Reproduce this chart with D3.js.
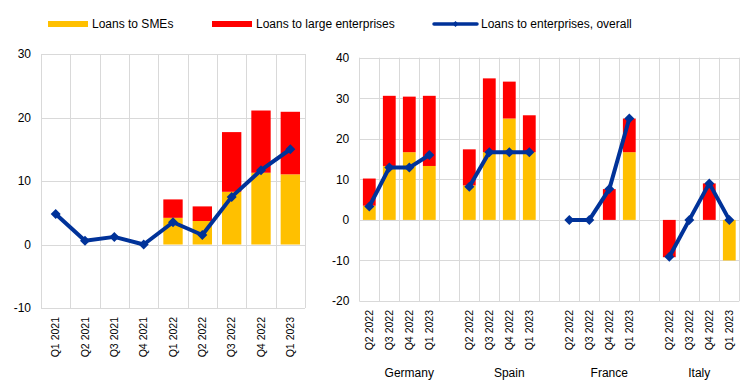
<!DOCTYPE html>
<html><head><meta charset="utf-8">
<script src="https://cdn.jsdelivr.net/npm/d3@7"></script>
<style>
body{margin:0;background:#fff;}
svg text{font-family:"Liberation Sans",Arial,sans-serif;fill:#000;}
</style></head>
<body><svg id="c" width="744" height="384"></svg>
<script>
// ---- data ----
const leftCategories = ["Q1 2021","Q2 2021","Q3 2021","Q4 2021","Q1 2022","Q2 2022","Q3 2022","Q4 2022","Q1 2023"];
const leftSME     = [null, null, null, null, 4.2, 3.7, 8.3, 11.3, 11.05];
const leftLarge   = [null, null, null, null, 2.9, 2.3, 9.4, 9.8, 9.85];
const leftOverall = [4.8, 0.6, 1.2, 0.0, 3.5, 1.5, 7.5, 11.7, 15.0];
const leftTicks   = [-10, 0, 10, 20, 30];

const countries = ["Germany","Spain","France","Italy"];
const quarters  = ["Q2 2022","Q3 2022","Q4 2022","Q1 2023"];
const rightSME = {
  Germany:[3.5, 13.3, 16.7, 13.3],
  Spain:[8.5, 16.7, 25.0, 16.7],
  France:[0, 0, 0, 16.7],
  Italy:[0, 0, 0, -10.0]
};
const rightLarge = {
  Germany:[6.7, 17.3, 13.7, 17.3],
  Spain:[8.9, 18.2, 9.1, 9.1],
  France:[0, 0, 7.6, 8.3],
  Italy:[-9.2, 0, 9.0, 0]
};
const rightOverall = {
  Germany:[3.3, 12.9, 12.9, 16.0],
  Spain:[8.2, 16.7, 16.7, 16.7],
  France:[0, 0, 7.6, 25.0],
  Italy:[-9.1, 0, 9.0, 0]
};
const rightTicks = [-20, -10, 0, 10, 20, 30, 40];

const seriesNames = ["Loans to SMEs","Loans to large enterprises","Loans to enterprises, overall"];
const colors = {sme:"#FFC000", large:"#FF0000", line:"#003299", grid:"#D9D9D9"};

const svg = d3.select("#c");
const diamond = "M0,-5L5,0L0,5L-5,0Z";

// ---- legend ----
const lg = svg.append("g");
const legendX = [48, 212, 434];
[0,1].forEach(i=>{
  lg.append("rect").attr("x",legendX[i]).attr("y",21).attr("width",40).attr("height",6)
    .attr("fill", i===0?colors.sme:colors.large);
  lg.append("text").attr("x",legendX[i]+44).attr("y",28).attr("font-size",12).text(seriesNames[i]);
});
lg.append("line").attr("x1",legendX[2]).attr("x2",legendX[2]+43).attr("y1",24).attr("y2",24)
  .attr("stroke",colors.line).attr("stroke-width",3.5).attr("stroke-linecap","round");
lg.append("path").attr("d","M0,-3L3,0L0,3L-3,0Z").attr("transform",`translate(${legendX[2]+21.5},24)`).attr("fill",colors.line);
lg.append("text").attr("x",legendX[2]+47).attr("y",28).attr("font-size",12).text(seriesNames[2]);

function drawPanel(opts){
  const {x0,x1,y0,y1,domain,yTicks,yDomain,rows,labelFor} = opts;
  const x = d3.scaleBand().domain(domain).range([x0,x1]).paddingInner(0).paddingOuter(0);
  const y = d3.scaleLinear().domain(yDomain).range([y1,y0]);
  const g = svg.append("g");
  // grid
  g.selectAll(".hg").data(yTicks).join("line")
    .attr("x1",x0).attr("x2",x1).attr("y1",d=>Math.round(y(d))+0.5).attr("y2",d=>Math.round(y(d))+0.5)
    .attr("stroke",colors.grid);
  const vb = domain.map(d=>x(d)).concat([x1]);
  g.selectAll(".vg").data(vb).join("line")
    .attr("x1",d=>Math.round(d)+0.5).attr("x2",d=>Math.round(d)+0.5).attr("y1",y0).attr("y2",y1)
    .attr("stroke",colors.grid);
  // y axis
  const ya = g.append("g").attr("transform",`translate(${x0},0)`)
    .call(d3.axisLeft(y).tickValues(yTicks).tickSize(0).tickPadding(10).tickFormat(d=>String(d)));
  ya.select(".domain").remove();
  ya.selectAll("text").attr("font-size",12).attr("font-family","Liberation Sans, Arial, sans-serif").attr("fill","#000");
  // x axis
  const xa = g.append("g").attr("transform",`translate(0,${y1})`)
    .call(d3.axisBottom(x).tickSize(0).tickFormat(labelFor));
  xa.select(".domain").remove();
  xa.selectAll("text").attr("font-size",10.5).attr("font-family","Liberation Sans, Arial, sans-serif").attr("fill","#000")
    .attr("text-anchor","end").attr("dy","0.35em").attr("y",0)
    .attr("transform","translate(0,9) rotate(-90)");
  // stacked bars
  const stacked = d3.stack().keys(["sme","large"]).value((d,k)=>d[k]==null?0:d[k])
    .offset(d3.stackOffsetDiverging)(rows);
  const bw = x.bandwidth()*opts.barFrac;
  stacked.forEach(s=>{
    g.append("g").selectAll("rect").data(s.filter(d=>d.data[s.key]!=null && d[0]!==d[1])).join("rect")
      .attr("x",d=>x(d.data.cat)+(x.bandwidth()-bw)/2).attr("width",bw)
      .attr("y",d=>y(Math.max(d[0],d[1]))).attr("height",d=>Math.abs(y(d[0])-y(d[1])))
      .attr("fill",s.key==="sme"?colors.sme:colors.large);
  });
  // lines
  const line = d3.line().x(d=>x(d.cat)+x.bandwidth()/2).y(d=>y(d.overall));
  opts.segments.forEach(seg=>{
    g.append("path").datum(seg).attr("d",line).attr("fill","none")
      .attr("stroke",colors.line).attr("stroke-width",4).attr("stroke-linejoin","round");
    g.append("g").selectAll("path").data(seg).join("path").attr("d",diamond)
      .attr("transform",d=>`translate(${x(d.cat)+x.bandwidth()/2},${y(d.overall)})`)
      .attr("fill",colors.line);
  });
  return {x,y};
}

// ---- left panel ----
const leftRows = leftCategories.map((c,i)=>({cat:c, sme:leftSME[i], large:leftLarge[i], overall:leftOverall[i]}));
drawPanel({x0:41,x1:305,y0:54,y1:308,domain:leftCategories,yTicks:leftTicks,yDomain:[-10,30],
  rows:leftRows, labelFor:d=>d, barFrac:0.66, segments:[leftRows]});

// ---- right panel ----
const rightDomain = [];
const rightRows = [];
const segs = [];
countries.forEach((c,ci)=>{
  const seg=[];
  quarters.forEach((q,qi)=>{
    const key = c+"|"+q;
    rightDomain.push(key);
    const r = {cat:key, sme:rightSME[c][qi], large:rightLarge[c][qi], overall:rightOverall[c][qi]};
    rightRows.push(r); seg.push(r);
  });
  segs.push(seg);
  if(ci<countries.length-1) rightDomain.push("gap"+ci);
});
const rp = drawPanel({x0:359.3,x1:739.3,y0:57.7,y1:301,domain:rightDomain,yTicks:rightTicks,yDomain:[-20,40],
  rows:rightRows, labelFor:d=>d.startsWith("gap")?"":d.split("|")[1], barFrac:0.64, segments:segs});
// country labels: centred over group slots incl. trailing blank
countries.forEach((c,ci)=>{
  const first = rp.x(c+"|"+quarters[0]);
  const lastKey = ci<countries.length-1 ? "gap"+ci : c+"|"+quarters[quarters.length-1];
  const last = rp.x(lastKey)+rp.x.bandwidth();
  svg.append("text").attr("x",(first+last)/2).attr("y",377).attr("text-anchor","middle")
    .attr("font-size",12).text(c);
});
</script></body></html>
